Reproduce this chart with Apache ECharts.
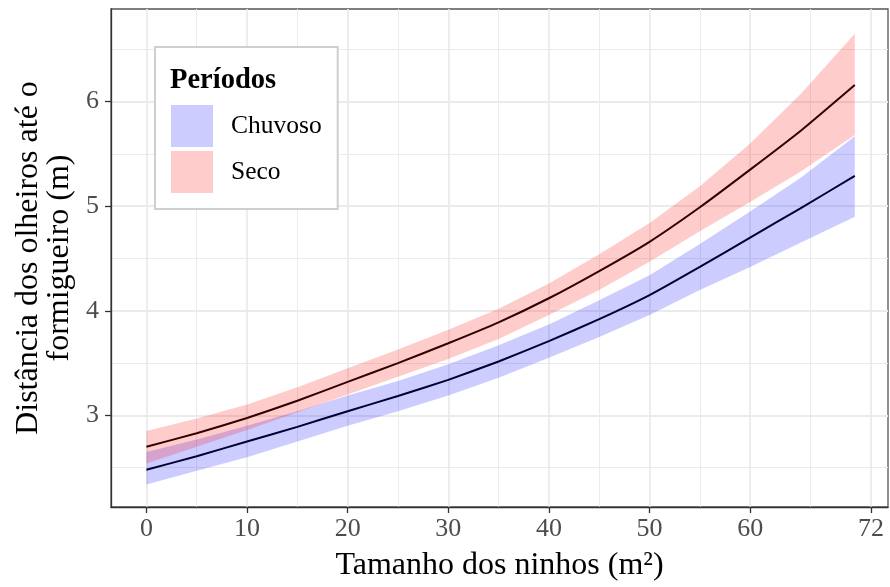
<!DOCTYPE html>
<html>
<head>
<meta charset="utf-8">
<script src="https://cdn.jsdelivr.net/npm/echarts@6/dist/echarts.min.js"></script>
<style>
  html, body { margin: 0; padding: 0; background: #fff; }
  #chart { width: 890px; height: 587px; }
</style>
</head>
<body>
<div id="chart"></div>
<script>
// tamanho dos ninhos (m²)
var xVals = [0, 5, 10, 15, 20, 25, 30, 35, 40, 45, 50, 55, 60, 65, 70.4];

// Chuvoso: ajuste + intervalo de confiança
var chuvosoFit   = [2.48, 2.61, 2.75, 2.89, 3.04, 3.185, 3.34, 3.515, 3.71, 3.92, 4.15, 4.42, 4.70, 4.98, 5.29];
var chuvosoLower = [2.34, 2.47, 2.60, 2.75, 2.90, 3.04, 3.19, 3.36, 3.55, 3.75, 3.96, 4.20, 4.42, 4.65, 4.90];
var chuvosoUpper = [2.65, 2.77, 2.90, 3.04, 3.19, 3.33, 3.49, 3.67, 3.87, 4.10, 4.34, 4.64, 4.95, 5.27, 5.67];

// Seco
var secoFit   = [2.70, 2.83, 2.975, 3.14, 3.32, 3.50, 3.69, 3.89, 4.12, 4.38, 4.66, 4.99, 5.35, 5.72, 6.16];
var secoLower = [2.54, 2.70, 2.86, 3.03, 3.20, 3.37, 3.54, 3.73, 3.96, 4.20, 4.47, 4.76, 5.04, 5.33, 5.68];
var secoUpper = [2.85, 2.97, 3.105, 3.27, 3.45, 3.63, 3.82, 4.02, 4.26, 4.54, 4.84, 5.19, 5.60, 6.07, 6.65];

var xTicks = [0, 10, 20, 30, 40, 50, 60, 72];
var xMinor = [5, 15, 25, 35, 45, 55, 66];
var yTicks = [3, 4, 5, 6];
var yMinor = [2.5, 3.5, 4.5, 5.5, 6.5];

var serif = '"Liberation Serif", "DejaVu Serif", serif';

function pairs(ys) {
  return xVals.map(function (x, i) { return [x, ys[i]]; });
}

// faixa do intervalo de confiança como um polígono
function band(name, hi, lo, col) {
  return {
    name: name, type: 'custom', silent: true, clip: true,
    itemStyle: { color: col },
    data: xVals.map(function (x, i) { return [x, lo[i], hi[i]]; }),
    encode: { x: 0, y: [1, 2] },
    renderItem: function (params, api) {
      if (params.dataIndex !== 0) return;
      var top = [], bottom = [];
      for (var i = 0; i < xVals.length; i++) {
        top.push(api.coord([xVals[i], hi[i]]));
        bottom.unshift(api.coord([xVals[i], lo[i]]));
      }
      return {
        type: 'polygon',
        shape: { points: top.concat(bottom), smooth: 0 },
        style: { fill: col }
      };
    }
  };
}

var chart = echarts.init(document.getElementById('chart'));

var minorAxis = {
  axisLine: { show: false },
  axisLabel: { show: false },
  splitLine: { show: true, lineStyle: { color: '#ebebeb', width: 1 } }
};

chart.setOption({
  animation: false,
  backgroundColor: '#fff',
  grid: {
    left: 111, right: 2, top: 9, bottom: 78,
    show: true, borderColor: '#555', borderWidth: 1.3, backgroundColor: 'transparent'
  },
  title: {
    text: 'Períodos', left: 170, top: 66, padding: 0,
    textStyle: { fontFamily: serif, fontWeight: 'bold', fontSize: 28.5, color: '#000' }
  },
  legend: {
    data: ['Chuvoso', 'Seco'],
    orient: 'vertical', left: 155, top: 47,
    padding: [58, 16, 16, 16],
    itemWidth: 42, itemHeight: 42, itemGap: 4,
    icon: 'rect',
    borderColor: '#cfcfcf', borderWidth: 2, backgroundColor: '#fff',
    itemStyle: { borderWidth: 0 },
    textStyle: { fontFamily: serif, fontSize: 25.5, color: '#000', padding: [0, 0, 0, 13] },
    selectedMode: false
  },
  xAxis: [{
    type: 'value', min: -3.52, max: 73.7,
    name: 'Tamanho dos ninhos (m²)', nameLocation: 'middle', nameGap: 43,
    nameTextStyle: { fontFamily: serif, fontSize: 32, color: '#000' },
    axisLine: { show: true, onZero: false, lineStyle: { color: '#333', width: 1.3 } },
    axisTick: { show: true, length: 6, customValues: xTicks, lineStyle: { color: '#333', width: 1.3 } },
    axisLabel: { customValues: xTicks, margin: 9, fontFamily: serif, fontSize: 26, color: '#4d4d4d' },
    splitLine: { show: true, lineStyle: { color: '#ebebeb', width: 1.8 } }
  }, Object.assign({
    type: 'value', min: -3.52, max: 73.7, position: 'bottom',
    axisTick: { show: false, customValues: xMinor }
  }, minorAxis)],
  yAxis: [{
    type: 'value', min: 2.124, max: 6.886,
    name: 'Distância dos olheiros até o\nformigueiro (m)', nameLocation: 'middle', nameGap: 32,
    nameTextStyle: { fontFamily: serif, fontSize: 32, color: '#000', lineHeight: 31 },
    axisLine: { show: true, onZero: false, lineStyle: { color: '#333', width: 1.3 } },
    axisTick: { show: true, length: 6, customValues: yTicks, lineStyle: { color: '#333', width: 1.3 } },
    axisLabel: { customValues: yTicks, margin: 12, fontFamily: serif, fontSize: 26, color: '#4d4d4d' },
    splitLine: { show: true, lineStyle: { color: '#ebebeb', width: 1.8 } }
  }, Object.assign({
    type: 'value', min: 2.124, max: 6.886, position: 'left',
    axisTick: { show: false, customValues: yMinor }
  }, minorAxis)],
  series: [
    { type: 'line', data: pairs(chuvosoFit), symbol: 'none', silent: true, smooth: 0.15,
      lineStyle: { color: '#000033', width: 2 } },
    { type: 'line', data: pairs(secoFit), symbol: 'none', silent: true, smooth: 0.15,
      lineStyle: { color: '#330000', width: 2 } },
    band('Chuvoso', chuvosoUpper, chuvosoLower, 'rgba(0,0,255,0.2)'),
    band('Seco', secoUpper, secoLower, 'rgba(255,0,0,0.2)')
  ]
});
</script>
</body>
</html>
